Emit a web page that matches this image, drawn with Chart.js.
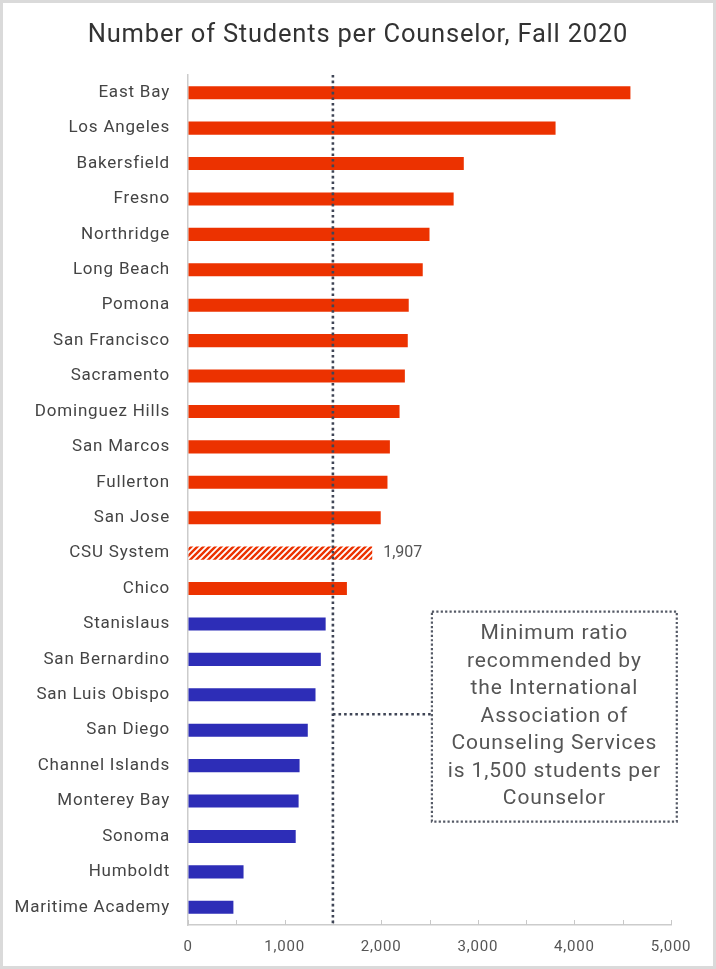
<!DOCTYPE html>
<html>
<head>
<meta charset="utf-8">
<script src="https://cdn.jsdelivr.net/npm/chart.js@4/dist/chart.umd.min.js"></script>
<style>
  html, body { margin: 0; padding: 0; background: #ffffff; }
  #wrap { width: 716px; height: 969px; position: relative; }
</style>
</head>
<body>
<div id="wrap"><canvas id="c" width="716" height="969"></canvas></div>
<script>
// ---- data ----
const titleText = 'Number of Students per Counselor, Fall 2020';
const categories = [
  'East Bay', 'Los Angeles', 'Bakersfield', 'Fresno', 'Northridge', 'Long Beach',
  'Pomona', 'San Francisco', 'Sacramento', 'Dominguez Hills', 'San Marcos',
  'Fullerton', 'San Jose', 'CSU System', 'Chico', 'Stanislaus', 'San Bernardino',
  'San Luis Obispo', 'San Diego', 'Channel Islands', 'Monterey Bay', 'Sonoma',
  'Humboldt', 'Maritime Academy'
];
const studentsPerCounselor = [
  4580, 3805, 2855, 2750, 2500, 2430,
  2285, 2275, 2245, 2190, 2090,
  2065, 1995, 1907, 1645, 1425, 1375,
  1320, 1240, 1155, 1145, 1115,
  575, 470
];
const systemLabel = 'CSU System';
const systemValueLabel = '1,907';
const recommendedRatio = 1500;
const xTickValues = [0, 1000, 2000, 3000, 4000, 5000];
const noteLines = [
  'Minimum ratio', 'recommended by', 'the International', 'Association of',
  'Counseling Services', 'is 1,500 students per', 'Counselor'
];

// ---- styles ----
const RED = '#EC3200';
const BLUE = '#2D2DB7';
const FONT = 'Roboto, "Noto Sans", sans-serif';

function hatch() {
  const p = document.createElement('canvas');
  p.width = 6; p.height = 6;
  const g = p.getContext('2d');
  g.fillStyle = '#ffffff'; g.fillRect(0, 0, 6, 6);
  g.strokeStyle = RED; g.lineWidth = 2.4;
  g.beginPath();
  g.moveTo(-1, 7); g.lineTo(7, -1);
  g.moveTo(-4, 4); g.lineTo(4, -4);
  g.moveTo(2, 10); g.lineTo(10, 2);
  g.stroke();
  return g.createPattern(p, 'repeat');
}
const hatchPattern = hatch();

const colors = studentsPerCounselor.map((v, i) =>
  categories[i] === systemLabel ? hatchPattern : (v >= recommendedRatio ? RED : BLUE));

const framePlugin = {
  id: 'frame',
  beforeDraw(chart) {
    const { ctx, width, height } = chart;
    ctx.save();
    ctx.fillStyle = '#ffffff';
    ctx.fillRect(0, 0, width, height);
    ctx.strokeStyle = '#dadada';
    ctx.lineWidth = 4;
    ctx.strokeRect(1, 1, width - 2, height - 2);
    // title, centred on the whole picture
    ctx.fillStyle = '#333333';
    ctx.font = '25.5px ' + FONT;
    ctx.letterSpacing = '0.8px';
    ctx.textAlign = 'center';
    ctx.textBaseline = 'middle';
    ctx.fillText(titleText, width / 2, 36);
    ctx.restore();
    // slightly wider letter spacing, closer to the original DIN-like face
    ctx.letterSpacing = '0.8px';
  }
};

const decorPlugin = {
  id: 'decor',
  afterDraw(chart) {
    const { ctx } = chart;
    const xs = chart.scales.x, ys = chart.scales.y;
    const area = chart.chartArea;
    ctx.save();
    // inner tick marks on x axis
    ctx.strokeStyle = '#c8c8c8';
    ctx.lineWidth = 1;
    xs.ticks.forEach(t => {
      const px = Math.round(xs.getPixelForValue(t.value)) + 0.5;
      ctx.beginPath();
      ctx.moveTo(px, area.bottom - 5);
      ctx.lineTo(px, area.bottom);
      ctx.stroke();
    });
    // threshold line
    const tx = xs.getPixelForValue(recommendedRatio);
    ctx.strokeStyle = '#3f4556';
    ctx.lineWidth = 2.6;
    ctx.setLineDash([2.6, 3]);
    ctx.beginPath();
    ctx.moveTo(tx, area.top);
    ctx.lineTo(tx, area.bottom);
    ctx.stroke();
    // note box
    const bx0 = xs.getPixelForValue(2525), bx1 = xs.getPixelForValue(5060);
    const by0 = ys.getPixelForValue(14.65), by1 = ys.getPixelForValue(20.58);
    const cy = ys.getPixelForValue(17.55);
    ctx.beginPath();
    ctx.moveTo(tx, cy);
    ctx.lineTo(bx0, cy);
    ctx.stroke();
    ctx.strokeStyle = '#555a66';
    ctx.lineWidth = 2.2;
    ctx.setLineDash([2.2, 2.2]);
    ctx.strokeRect(bx0, by0, bx1 - bx0, by1 - by0);
    ctx.setLineDash([]);
    ctx.fillStyle = '#555555';
    ctx.font = '21px ' + FONT;
    ctx.letterSpacing = '0.9px';
    ctx.textAlign = 'center';
    ctx.textBaseline = 'middle';
    const mx = (bx0 + bx1) / 2;
    const lh = 27.5;
    const startY = (by0 + by1) / 2 - lh * (noteLines.length - 1) / 2;
    noteLines.forEach((l, i) => ctx.fillText(l, mx, startY + i * lh));
    // system value label
    const si = categories.indexOf(systemLabel);
    ctx.font = '16px ' + FONT;
    ctx.letterSpacing = '0px';
    ctx.textAlign = 'left';
    ctx.fillStyle = '#555555';
    ctx.fillText(systemValueLabel, xs.getPixelForValue(studentsPerCounselor[si]) + 11, ys.getPixelForValue(si));
    ctx.restore();
  }
};

new Chart(document.getElementById('c'), {
  type: 'bar',
  data: {
    labels: categories,
    datasets: [{
      data: studentsPerCounselor,
      backgroundColor: colors,
      borderWidth: 0,
      barPercentage: 0.37,
      categoryPercentage: 1.0
    }]
  },
  options: {
    indexAxis: 'y',
    responsive: false,
    animation: false,
    events: [],
    layout: { padding: { left: 0, right: 45, top: 75, bottom: 0 } },
    plugins: {
      legend: { display: false },
      tooltip: { enabled: false },
      title: { display: false }
    },
    scales: {
      x: {
        min: 0, max: 5000,
        ticks: {
          stepSize: 500,
          autoSkip: false,
          maxRotation: 0,
          color: '#555555',
          font: { family: FONT, size: 15 },
          padding: 13,
          callback: (v) => xTickValues.includes(v) ? v.toLocaleString('en-US') : ''
        },
        grid: { display: true, drawOnChartArea: false, drawTicks: false, color: '#cccccc' },
        border: { display: true, color: '#cccccc', width: 1.5 }
      },
      y: {
        afterFit(scale) { scale.width = 188; },
        ticks: {
          color: '#444444',
          font: { family: FONT, size: 17 },
          padding: 18,
          autoSkip: false
        },
        grid: { display: false, drawTicks: false },
        border: { display: true, color: '#cccccc', width: 1.5 }
      }
    }
  },
  plugins: [framePlugin, decorPlugin]
});
</script>
</body>
</html>
